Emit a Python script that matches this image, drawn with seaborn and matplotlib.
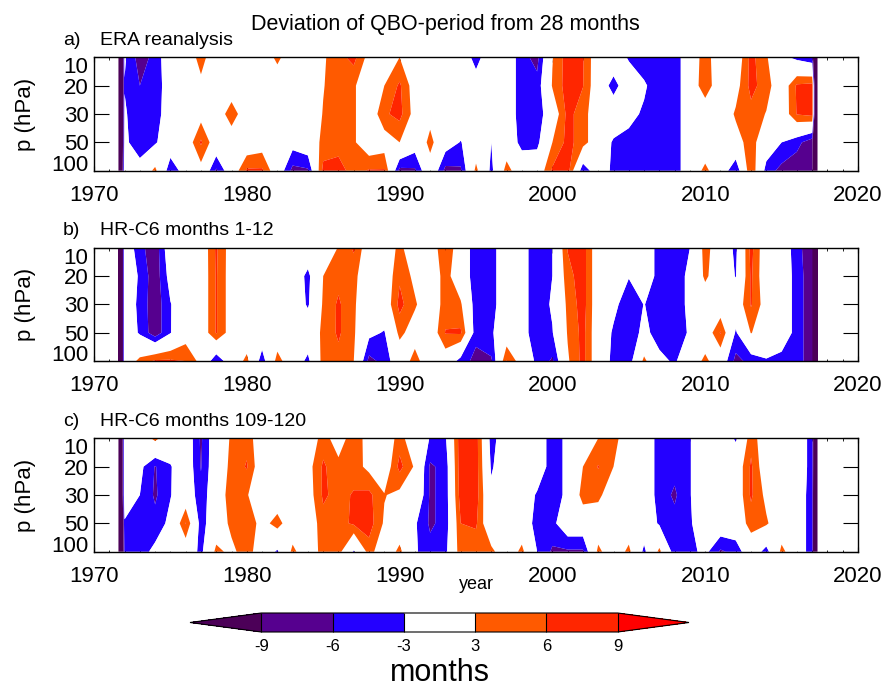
import numpy as np
import matplotlib
matplotlib.use("Agg")
import matplotlib.pyplot as plt
import seaborn as sns

sns.set_style("white")
plt.rcParams['font.family'] = ['Liberation Sans', 'DejaVu Sans']
plt.rcParams['text.color'] = 'black'
plt.rcParams['axes.labelcolor'] = 'black'
plt.rcParams['xtick.color'] = 'black'
plt.rcParams['ytick.color'] = 'black'
plt.rcParams['axes.edgecolor'] = 'black'

# ---------------- data ----------------
years = list(range(1972, 2018))          # grid columns (one per year)
edge_years = (1971.6, 2017.35)           # first/last sample (fill value)
fill_value = -30.0
pressure_labels = ["10", "20", "30", "50", "100"]
contour_levels = [-9, -6, -3, 3, 6, 9]
cbar_labels = ["-9", "-6", "-3", "3", "6", "9"]
fill_colors = ['#4c0058', '#56008f', '#2400ff', '#ffffff', '#ff5a00', '#ff2600', '#ff0000']

panel_tags = ["a)", "b)", "c)"]
panel_titles = ["ERA reanalysis", "HR-C6 months 1-12", "HR-C6 months 109-120"]

# ERA reanalysis (deviation in months), levels 10,20,30,50,100 hPa
era_10 = [-2.5, -7.5, -5, 0, 0, 4.5, 0, 0, 0, 0,
          4, 0, 0, 2.5, 5, 7, 1.6, 0, 3, 0,
          0, 0, 0, -4.5, 0, 0, -5, -7, 2.8, 7.5,
          6.3, 0, 0, -3.5, -5, -5, -5, 0, 4.8, 0,
          0, 7, 3.5, -2, -4, -5.5]
era_20 = [-3.2, -6, -5.5, 0, 0, 2, 0, 0, 0, 0,
          0, 0, 0, 2.8, 5, 3.5, 0, 3, 6.5, 1,
          0, 0, 0, -1, 0, 0, -5, -5, 3.3, 7.5,
          6.1, 0, -4.5, 0, -2.5, -5, -5, 0, 5.3, 0,
          1.5, 7, 4.5, 0, 6.5, 7]
era_30 = [-2.5, -5.5, -5, 0, 0, 1.5, 0, 5.2, 0, 0,
          0, 0, 0, 3.2, 5, 3.5, 0, 5.5, 7, 1.5,
          1.5, 0, 0, 0, 0, 0, -5, -5, 0, 7,
          4.5, 0, 0, -2, -3.5, -5, -5, 0, 0, 0,
          3.5, 5, 2.8, 0, 6.2, 7]
era_50 = [-2, -5.5, -3.5, 0, 0, 6.5, 0.3, 0, 0, 1,
          0, -1.5, 0, 4, 5, 3.5, 0, 1, 3, -1,
          4.2, -1, -3.2, 0, -3, 0, -4.2, -4, 3, 7,
          4.5, 0, -3.5, -4, -5, -5, -5, 0, 0, 0,
          1.5, 4.5, 0, -3, -5, -8]
era_100 = [0, -1, 4, -5.5, -1, 1.5, -6.5, 0, 6.5, 6.5,
           0, -7, -6.5, 7, 7, 5, 6.3, 6.3, -7, -6.5,
           1, -7, -6.5, 4, -4, 4.5, 0, 0, 6.5, 7.5,
           -5.5, 0, -4, -4.5, -5, -5, -5, 0, 4, 0,
           -6, 6, -4.5, -7, -8, -8.5]

# HR-C6 months 1-12
hr1_10 = [0, -5, -8, 0, 0, 0, 6.5, 1, 0, 0,
          0, 0, 0, 0, 3.2, 6.5, 0, 0, 4, 0,
          0, 6.2, 0, -5, -4.5, 0, -1.5, -5, -3, 6.2,
          7.5, 0, 0, 0, 0, -4.5, -5, -3, 4.5, 0,
          -3.8, 7, 0, 0, -5, -8]
hr1_20 = [0, -3.5, -8, -1.5, 0, 0, 6.3, 1, 0, 0,
          0, 0, -4, 3, 5, 4, 0, 0, 5.5, 2,
          0, 4.5, 0, -5, -4.5, 0, -1.5, -5, -3, 5,
          7.5, 0, 0, -2.8, 0, -4.5, -5, -2, 3.8, 0,
          -3.2, 6.5, 0, 0, -4.5, -8]
hr1_30 = [0, -4, -8, -3.2, 0, 0, 6.3, 1, 0, 0,
          0, 0, -3.5, 3.5, 6.5, 3.5, 0, 0, 7, 3.5,
          0, 4.5, 3.5, -5, -4.5, 0, -1.5, -5, -2.5, 3.8,
          7.5, 0, -2, -5, -2.9, -4.5, -5, -2, 0, 0,
          0, 6.3, 1, 0, -4.5, -8]
hr1_50 = [0, -3.5, -8, -3.2, 1, 0, 6.3, 1, 0, 0,
          0, 0, 0, 3.8, 6.5, 3.5, -2, -3.3, 4, 1,
          0, 6.2, 6.5, -5, -3.5, 0, -1.5, -5, -3.2, 3.3,
          7, 0, -3.5, -5, -2, -4.5, -5, -2.5, 0, 6.3,
          -3.5, 3.2, 0, 0, -4.5, -8]
hr1_100 = [0, 4, 6.5, 6.5, 6, 1.8, -6, 0, 4, -5,
           4.5, 0, -4, 4.5, 5, 3, -7, -5, 0, 4.5,
           0, 0.5, -4.5, -7, -6.5, 6.2, 1, -4, -6.5, 2.5,
           7, 0, -4, -5, 4, -2, -3.5, 0, 4, 0,
           -7, -5, -3.3, -4.5, -4.5, -8]

# HR-C6 months 109-120
hr109_10 = [0, 0, 4, 0, 0, -6.5, 0, 3.5, 5, 0,
            0, 0, 0, 4.5, 1, 5, 1.5, 0, 4.5, 0,
            -3.2, -3.5, 8, 7.5, -4.5, 0, 0, 0, -5, -2,
            0, 3, 4.5, 0, 0, -4.5, -5, -3.2, 0, 0,
            -3.5, 5, 0, 0, 0, -4.5]
hr109_20 = [0, -2, -6.2, -3.3, 0, -6.2, 0, 4, 6.3, 0,
            0, 0, 1.5, 6.5, 4, 4.5, 2, 0, 7, 2.5,
            -6.5, -5, 8, 7.5, -3.5, 0, 0, 0, -5, -2,
            3, 6.2, 3, 0, 0, -4.5, -5, -3.2, 0, 0,
            0, 6.5, 0, 0, 0, -4.5]
hr109_30 = [0, -3, -6.5, -3.2, 0, -5, 0, 5, 3.3, 0,
            0, 0, 1, 6.5, 5, 6.3, 6.8, 3.2, 2, 1.5,
            -6.5, -5, 7.5, 7.5, -2, 0, 0, -3.5, -5, -2,
            4.5, 4, 0, 0, 0, -4.5, -6.5, -3.2, 0, 0,
            0, 6.5, 2, 0, 0, -5]
hr109_50 = [-3.5, -5, -5, -2, 6.2, -4.5, 0, 4, 5.5, 1.5,
            4.5, 0, 0, 5, 5, 6.5, 7.5, 2.5, 0, -2.5,
            -6.5, -5, 6, 6.5, -1, 0, 0, -4.5, -4, 0,
            0, 0, 0, 0, 0, -3.5, -5, -3.5, 0, 0,
            0, 4.5, 3.5, 0, 0, -5]
hr109_100 = [-5.5, -4.5, -2, 0, 0, -4, 4, 2, 5, 0,
             -3.6, 4, 0, 4.5, 4.5, -3.5, 4.5, 0, 4, -2.5,
             -5, -4, 5, 4, 4, 0, 4, -3, -6.5, -6.5,
             -6.5, 4, 0, 4, -4, 4, -5, -4, -2, -6.5,
             -5, 0, -4.5, 4, 0, -5]

panels = [
    [era_10, era_20, era_30, era_50, era_100],
    [hr1_10, hr1_20, hr1_30, hr1_50, hr1_100],
    [hr109_10, hr109_20, hr109_30, hr109_50, hr109_100],
]

# ---------------- figure ----------------
W, H = 891, 689
fig = plt.figure(figsize=(W / 100, H / 100), dpi=100)


def fy(py):
    return 1 - py / H


x = np.array([edge_years[0]] + years + [edge_years[1]], dtype=float)
y = np.arange(len(pressure_labels))

ax_left, ax_w, ax_h = 94, 764, 113.4
tops = [57.3, 247.7, 438.3]

cs = None
for i, rows in enumerate(panels):
    z = np.array(rows, dtype=float)
    edge = np.full((z.shape[0], 1), fill_value)
    Z = np.hstack([edge, z, edge])
    top = tops[i]
    ax = fig.add_axes([ax_left / W, fy(top + ax_h), ax_w / W, ax_h / H])
    cs = ax.contourf(x, y, Z, levels=contour_levels, colors=fill_colors,
                     extend='both', antialiased=True)
    ax.set_xlim(1970, 2020)
    ax.set_ylim(len(pressure_labels) - 1, 0)
    ax.set_xticks(np.arange(1970, 2021, 10))
    ax.set_xticks(np.arange(1970, 2021, 1), minor=True)
    ax.set_yticks(y)
    ax.set_yticklabels(pressure_labels)
    ylabs = ax.get_yticklabels()
    ylabs[0].set_va('top')
    ylabs[-1].set_va('baseline')
    ax.tick_params(axis='x', which='major', direction='in', length=3.5, width=0.8,
                   top=True, bottom=True, labelsize=16, pad=10, colors='black')
    ax.tick_params(axis='x', which='minor', direction='in', length=1.8, width=0.6,
                   top=True, bottom=True, colors='black')
    ax.tick_params(axis='y', which='major', direction='in', length=10.8, width=0.8,
                   left=True, right=True, labelsize=16, pad=4, colors='black')
    for s in ax.spines.values():
        s.set_color('black')
        s.set_linewidth(1.0)
    ax.set_facecolor('white')
    # panel labels
    fig.text(63 / W, fy(top - 12.3), panel_tags[i], fontsize=14, ha='left',
             va='baseline', color='black')
    fig.text(100 / W, fy(top - 12.3), panel_titles[i], fontsize=14, ha='left',
             va='baseline', color='black')
    fig.text(25 / W, fy(top + ax_h / 2), 'p (hPa)', fontsize=16, rotation=90,
             ha='center', va='center', color='black')

fig.text(0.5, fy(30), 'Deviation of QBO-period from 28 months', fontsize=15.5,
         ha='center', va='baseline', color='black')
fig.text(476 / W, fy(589), 'year', fontsize=13, ha='center', va='baseline', color='black')

# colorbar (axes spans the extension triangles too)
cax = fig.add_axes([190 / W, fy(632), 499 / W, 19 / H])
cb = fig.colorbar(cs, cax=cax, orientation='horizontal', extendfrac=0.2, drawedges=True)
cb.set_ticks(contour_levels)
cb.set_ticklabels(cbar_labels)
cax.tick_params(length=0, labelsize=12, pad=5, colors='black')
cb.outline.set_edgecolor('black')
cb.outline.set_linewidth(0.8)
cb.dividers.set_color('black')
cb.dividers.set_linewidth(0.8)
fig.text(440 / W, fy(681), 'months', fontsize=22, ha='center', va='baseline', color='black')

fig.savefig('out.png', dpi=100)
